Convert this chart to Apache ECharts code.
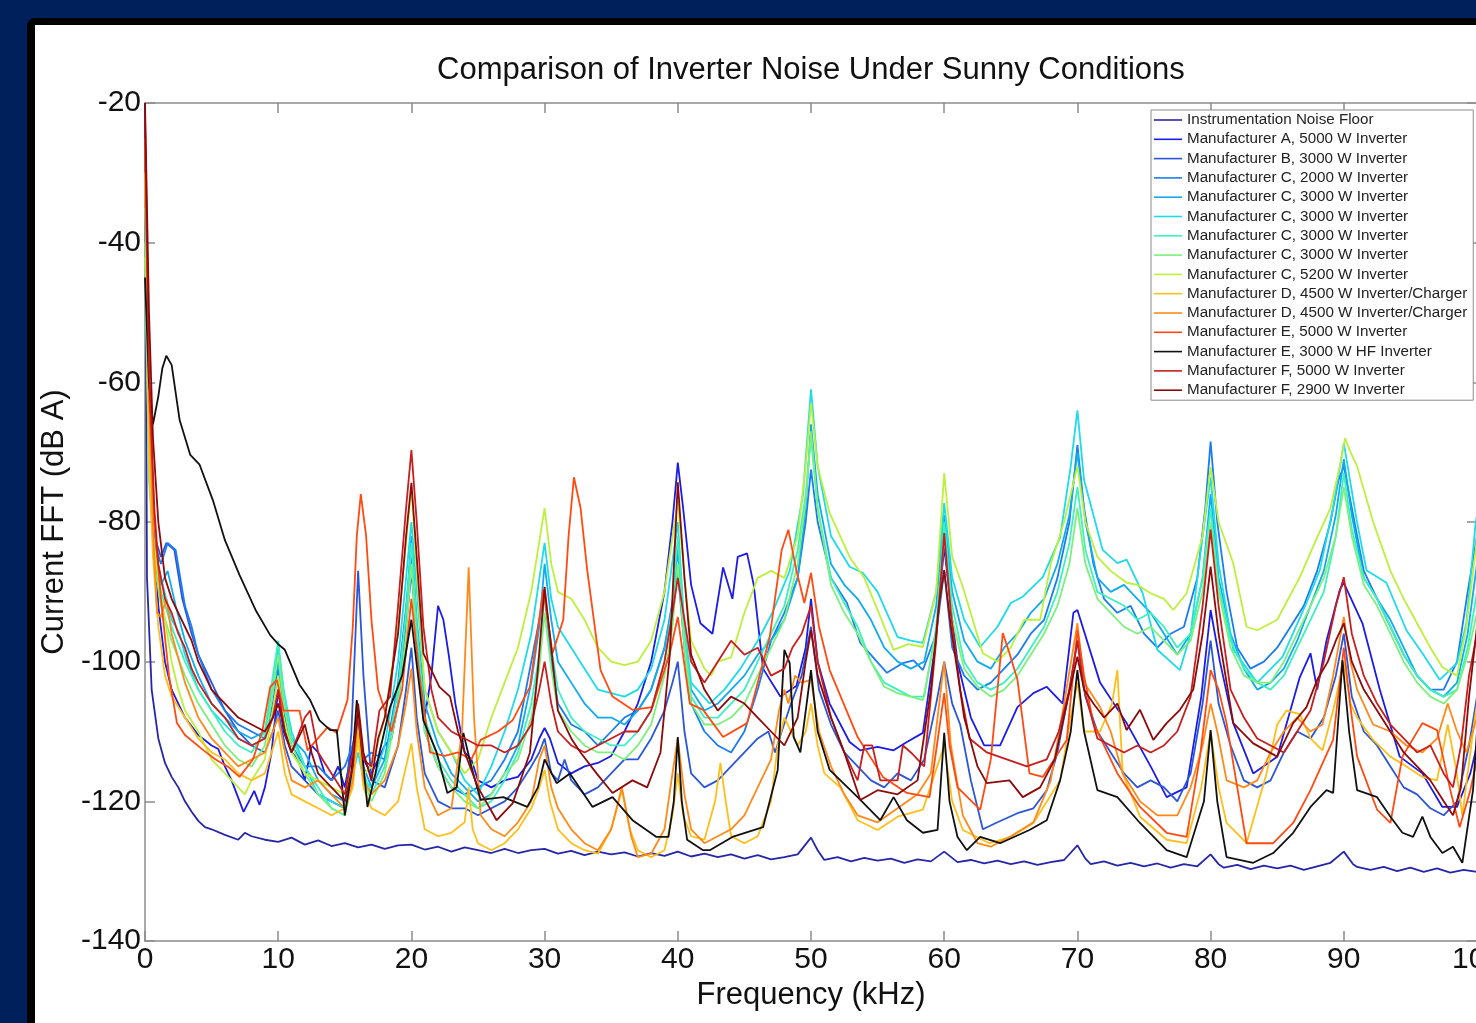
<!DOCTYPE html>
<html>
<head>
<meta charset="utf-8">
<script src="https://cdn.jsdelivr.net/npm/echarts@6/dist/echarts.min.js"></script>
<style>
html,body{margin:0;padding:0;width:1476px;height:1023px;overflow:hidden;background:#00205c;}
#frame{position:absolute;left:27px;top:18px;width:1500px;height:1100px;background:#000;border-radius:8px;}
#chart{position:absolute;left:35px;top:25px;width:1450px;height:1000px;background:#fff;}
</style>
</head>
<body>
<div id="frame"></div>
<div id="chart"></div>
<script>
// ---- axis ticks ----
const xTicks = [0,10,20,30,40,50,60,70,80,90,100];
const yTicks = [-140,-120,-100,-80,-60,-40,-20];

// ---- legend names ----
const names = [
 'Instrumentation Noise Floor',
 'Manufacturer A, 5000 W Inverter',
 'Manufacturer B, 3000 W Inverter',
 'Manufacturer C, 2000 W Inverter',
 'Manufacturer C, 3000 W Inverter',
 'Manufacturer C, 3000 W Inverter ',
 'Manufacturer C, 3000 W Inverter  ',
 'Manufacturer C, 3000 W Inverter   ',
 'Manufacturer C, 5200 W Inverter',
 'Manufacturer D, 4500 W Inverter/Charger',
 'Manufacturer D, 4500 W Inverter/Charger ',
 'Manufacturer E, 5000 W Inverter',
 'Manufacturer E, 3000 W HF Inverter',
 'Manufacturer F, 5000 W Inverter',
 'Manufacturer F, 2900 W Inverter'
];
const colors = ['#2626a8','#1c1ce8','#2c56d8','#1a7cf0','#10aaf0','#1ddbe8','#3cf0c0','#7cf07c','#bcf03c','#ffbf1a','#ff8a1a','#ff4a12','#111111','#c81e1e','#8c0a0a'];

// ---- series values: [frequency kHz, current FFT dB A] ----
const noiseFloor = [[0,-20],[0.15,-88],[0.5,-104],[1,-111],[1.5,-114.5],[2,-116.5],[2.5,-118],[3,-120],[3.5,-121.5],[4,-122.8],[4.5,-123.7],[5,-124],[6,-124.8],[7,-125.5],[7.5,-124.5],[8,-125],[9,-125.5],[10,-125.8],[11,-125.2],[12,-126.2],[13,-125.6],[14,-126.4],[15,-126],[16,-126.6],[17,-126.2],[18,-126.8],[19,-126.3],[20,-126.2],[21,-126.9],[22,-126.5],[23,-127.2],[24,-126.6],[25,-127],[26,-127.4],[27,-126.8],[28,-127.4],[29,-127],[30,-126.8],[31,-127.5],[32,-127.1],[33,-127.7],[34,-127.2],[35,-127.6],[36,-127.3],[37,-127.9],[38,-127.4],[39,-127.8],[40,-127.2],[41,-127.9],[42,-127.5],[43,-128],[44,-127.6],[45,-128.2],[46,-127.7],[47,-128.3],[48,-128],[49,-127.6],[50,-125.2],[50.5,-127],[51,-128.4],[52,-128],[53,-128.6],[54,-128.1],[55,-128.5],[56,-128.2],[57,-128.8],[58,-128.3],[59,-128.6],[60,-127.2],[61,-128.7],[62,-128.4],[63,-128.9],[64,-128.5],[65,-129],[66,-128.6],[67,-129.1],[68,-128.7],[69,-128.4],[70,-126.3],[70.6,-128.2],[71,-129],[72,-128.6],[73,-129.2],[74,-128.8],[75,-129.3],[76,-128.9],[77,-129.5],[78,-129],[79,-129.3],[80,-127.6],[80.6,-129],[81,-129.5],[82,-129.1],[83,-129.7],[84,-129.2],[85,-129.6],[86,-129.2],[87,-129.8],[88,-129.3],[89,-128.8],[90,-127.2],[90.7,-129],[91,-129.4],[92,-129.8],[93,-129.4],[94,-130],[95,-129.5],[96,-130.1],[97,-129.6],[98,-130.2],[99,-129.8],[100,-130.1]];

const mfrA5000 = [[0,-30],[0.3,-62],[0.6,-80],[1,-92],[1.5,-100],[2,-104],[3,-108],[4,-110.5],[5,-112],[5.5,-112.5],[6,-115],[6.5,-117],[7,-119.5],[7.4,-121.5],[7.8,-120],[8.2,-118.5],[8.6,-120.5],[9,-118],[9.5,-113],[10,-104],[10.4,-110],[11,-113],[11.5,-114],[12,-117],[12.5,-112],[13,-113],[13.5,-116],[14,-117],[14.5,-115],[15,-118],[15.5,-113],[16,-108],[16.4,-114],[17,-116],[17.5,-114],[18,-112],[18.5,-111],[19,-106],[19.5,-97],[20,-87],[20.5,-98],[21,-108],[21.5,-102],[22,-92],[22.4,-94],[22.8,-99],[23.3,-106],[24,-113],[24.5,-114],[25,-117],[26,-118],[27,-117],[28,-116.5],[29,-114],[29.6,-111],[30,-109.5],[30.4,-111],[31,-114.5],[32,-116],[33,-115],[34,-114.5],[35,-113.5],[36,-110],[37,-106],[38,-100],[39,-90],[39.6,-80],[40,-71.5],[40.4,-78],[41,-89],[41.7,-94.5],[42.6,-96],[43.4,-86.5],[44.1,-91],[44.5,-85],[45.2,-84.5],[45.7,-89],[46.4,-101],[47.7,-105],[48.9,-103.5],[49.6,-98],[50,-91],[50.5,-100],[51.4,-106],[52.9,-111.5],[53.7,-112.7],[55,-112.2],[56.2,-112.7],[57.2,-111.5],[58.4,-110.2],[59.3,-98],[60,-83.5],[60.6,-94],[61,-100],[62,-108],[63,-112],[64.2,-112],[65.5,-106.5],[66.7,-104.5],[67.7,-103.6],[68.9,-106],[69.7,-93],[70,-92.6],[71.7,-103],[73.7,-108.8],[75.5,-115],[76.7,-119.4],[78.2,-118],[79.3,-105],[80,-92.6],[80.7,-100],[81.7,-108.8],[83.2,-116],[85,-113.6],[86.7,-102.2],[87.5,-98.8],[88,-104],[88.7,-97],[89.7,-89.7],[90,-88.7],[91.4,-94.5],[92.7,-104],[94.2,-113.6],[95.9,-116],[97.4,-120.8],[98.5,-120.8],[99.5,-116],[100,-112]];

const mfrB3000 = [[0,-35],[0.3,-68],[0.7,-82],[1.2,-85],[1.6,-83],[2.2,-84],[2.8,-91],[3.5,-96],[4,-99],[5,-103],[6,-107],[7,-110],[8,-112],[9,-113],[9.6,-110],[10,-107],[10.5,-112],[11,-115],[12,-117],[13,-119],[14,-120],[15,-121],[15.5,-110],[16,-87],[16.4,-102],[17,-117],[18,-118],[19,-112],[19.6,-104],[20,-98],[20.4,-108],[21,-116],[22,-120],[23,-121],[24,-121],[25,-122],[26,-121],[27,-120],[28,-118],[29,-115],[29.6,-113],[30,-111],[30.5,-116],[31,-117],[31.5,-114],[32,-117],[33,-119],[34,-118],[35,-116],[36,-114],[37,-114],[38,-111],[39,-107],[39.6,-103],[40,-100],[40.5,-110],[41,-116],[42,-118],[43,-117],[44,-115],[45,-113],[46,-111],[46.8,-110],[47.3,-113],[47.8,-110],[48.5,-106],[49.3,-102],[50,-95],[50.6,-104],[51.5,-109],[52.5,-113],[53.5,-115],[54.5,-117],[55.5,-118],[56.5,-116],[57.5,-117],[58.5,-114],[59.4,-106],[60,-100],[60.6,-106],[61.2,-109],[62,-117],[62.9,-124],[64,-123],[65.5,-121.7],[66.7,-121],[67.7,-118.4],[68.5,-113],[69.4,-104],[70,-97],[70.6,-105],[71.5,-110],[72.5,-113],[73.5,-116],[74.5,-118],[75.5,-117],[76.5,-118],[77.5,-120],[78.5,-116],[79.4,-106],[80,-97],[80.6,-106],[81.5,-112],[82.5,-117],[83.5,-118],[84.5,-117],[85.5,-113],[86.5,-110],[87.5,-111],[88.5,-108],[89.4,-102],[90,-96],[90.6,-105],[91.5,-110],[92.5,-112],[93.5,-115],[94.5,-118],[95.5,-119],[96.5,-121],[97.5,-122],[98.5,-120],[99.4,-112],[100,-105]];

const mfrC2000 = [[0,-40],[0.3,-70],[0.7,-83],[1.2,-86],[1.7,-83],[2.3,-84],[3,-92],[3.5,-95],[4,-99],[5,-104],[6,-107],[7,-109],[8,-110],[9,-111],[9.6,-106],[10,-101],[10.4,-107],[11,-112],[12,-115],[13,-115],[14,-117],[15,-115],[16,-110],[16.4,-114],[17,-113],[18,-114],[19,-103],[20,-85],[20.5,-98],[21,-110],[22,-115],[23,-118],[24,-119],[25,-118],[26,-117],[27,-114],[28,-110],[29,-100],[30,-90],[30.5,-100],[31,-106],[32,-109],[33,-110],[34,-112],[35,-110],[36,-108],[37,-107],[38,-104],[39,-98],[40,-87],[40.5,-98],[41,-106],[42,-110],[43,-112],[44,-113],[45,-110],[46,-104],[47,-97],[48,-93],[49,-88],[49.6,-80],[50,-72.5],[50.5,-80],[51.5,-88],[52.7,-91.6],[53.7,-97.3],[55.7,-101.6],[56.9,-100.2],[57.7,-99.8],[58.4,-101.2],[59.4,-96],[60,-87],[60.6,-98],[61.5,-102],[62.5,-104],[63.5,-103],[64.5,-101],[65.5,-99],[66.5,-96],[67.5,-94],[68.5,-88],[69.4,-80],[70,-69],[70.5,-78],[71.2,-86],[72,-91],[73,-93],[74,-92],[75,-96],[76,-98],[77,-96],[78,-95],[79,-88],[79.6,-78],[80,-68.5],[80.5,-80],[81.2,-90],[82,-98],[83,-101],[84,-100],[85,-98],[86,-95],[87,-92],[88,-87],[89,-80],[89.6,-74],[90,-72],[90.6,-78],[91.5,-87],[92.5,-91],[93.5,-95],[94.5,-99],[95.5,-102],[96.5,-104],[97.5,-104],[98.5,-100],[99.3,-90],[100,-82]];

const mfrC3000a = [[0,-38],[0.3,-70],[0.7,-85],[1.2,-89],[1.7,-87],[2.3,-92],[3,-97],[4,-102],[5,-106],[6,-108],[7,-110],[8,-111],[9,-110],[9.6,-104],[10,-100],[10.4,-106],[11,-111],[12,-113],[13,-117],[14,-119],[15,-120],[15.6,-115],[16,-108],[16.4,-115],[17,-118],[18,-114],[19,-104],[19.6,-93],[20,-82],[20.4,-94],[21,-106],[22,-112],[23,-116],[24,-118],[25,-120],[26,-119],[27,-116],[28,-112],[29,-103],[29.6,-95],[30,-86],[30.5,-94],[31,-100],[32,-103],[33,-106],[34,-108],[35,-108],[36,-109],[37,-107],[38,-104],[39,-98],[39.6,-92],[40,-84],[40.5,-96],[41,-104],[42,-107],[43,-106],[44,-104],[45,-102],[46,-99],[47,-97],[48,-94],[49,-88],[49.6,-78],[50,-66],[50.5,-76],[51.5,-86],[52.5,-89],[53.5,-91],[54.5,-94],[55.5,-98],[56.5,-100],[57.5,-101],[58.5,-100],[59.4,-92],[60,-79],[60.6,-90],[61.5,-97],[62.5,-100],[63.5,-101],[64.5,-98],[65.5,-96],[66.5,-93],[67.5,-91],[68.5,-86],[69.4,-79],[70,-70],[70.6,-80],[71.5,-88],[72.5,-90],[73.5,-89],[74.5,-91],[75.5,-93],[76.5,-96],[77.5,-99],[78.5,-96],[79.4,-88],[80,-76],[80.6,-88],[81.5,-96],[82.5,-101],[83.5,-104],[84.5,-103],[85.5,-101],[86.5,-97],[87.5,-92],[88.5,-87],[89.4,-79],[90,-71],[90.6,-79],[91.5,-88],[92.5,-91],[93.5,-94],[94.5,-98],[95.5,-102],[96.5,-104],[97.5,-105],[98.5,-103],[99.3,-96],[100,-86]];

const mfrC3000b = [[0,-35],[0.3,-70],[0.7,-84],[1.2,-88],[2,-94],[2.6,-96],[3,-99],[4,-104],[5,-107],[6,-109],[7,-111],[8,-112],[9,-111],[9.6,-104],[10,-98],[10.4,-104],[11,-110],[12,-115],[13,-119],[14,-120],[15,-121],[16,-113],[16.4,-117],[17,-118],[18,-112],[19,-100],[20,-80],[20.5,-92],[21,-104],[22,-110],[23,-113],[24,-117],[25,-119],[26,-115],[27,-110],[28,-104],[29,-96],[30,-83],[30.5,-91],[31,-95],[32,-98],[33,-101],[34,-104],[35,-104.5],[36,-105],[37,-104],[38,-101],[39,-94],[40,-80],[40.5,-95],[41,-103],[42.4,-106],[43.5,-104],[44.7,-101],[46,-97],[47.1,-93],[48.4,-87],[49.4,-76],[50,-61],[50.5,-72],[51.5,-82],[52.9,-86.4],[53.9,-87.3],[55,-90],[56.5,-96.5],[57.5,-97],[58.4,-97.3],[59.4,-90],[60,-77.3],[60.6,-88],[61.5,-94],[62.7,-97.9],[64,-95],[65,-91.6],[65.9,-90.7],[67.4,-87.9],[68.7,-82.2],[69.5,-72],[70,-64],[70.5,-74],[71.9,-84],[73,-85.9],[73.7,-85.4],[74.9,-90.2],[76,-98.3],[77.7,-101.2],[78.5,-96],[79.2,-85],[80,-73.6],[80.6,-86],[81.7,-98.3],[83.5,-103],[85.4,-99.3],[87.2,-91.6],[88.2,-86.9],[89.2,-77.9],[90,-68.7],[91,-80.1],[91.7,-86.9],[93.2,-88.7],[94.7,-95.5],[95.9,-98.8],[97.2,-102.6],[98.5,-100.2],[99.2,-94.5],[99.9,-80.1],[100,-79]];

const mfrC3000c = [[0,-40],[0.3,-72],[0.7,-85],[1.2,-90],[2,-95],[3,-100],[4,-104],[5,-107],[6,-110],[7,-112],[8,-113],[9,-110],[9.6,-102],[10,-97],[10.4,-104],[11,-111],[12,-115],[13,-118],[14,-121],[15,-122],[15.6,-116],[16,-109],[16.4,-116],[17,-119],[18,-115],[19,-104],[19.6,-93],[20,-83],[20.4,-95],[21,-108],[22,-114],[23,-117],[24,-119],[25,-121],[26,-120],[27,-117],[28,-113],[29,-106],[29.6,-99],[30,-90],[30.5,-98],[31,-104],[32,-108],[33,-110],[34,-111],[35,-112],[36,-112],[37,-110],[38,-107],[39,-100],[39.6,-92],[40,-82],[40.5,-96],[41,-105],[42,-108],[43,-108],[44,-106],[45,-104],[46,-100],[47,-96],[48,-92],[49,-84],[49.6,-76],[50,-68],[50.5,-78],[51.5,-88],[52.5,-91.6],[53.5,-95],[54.5,-100],[55.5,-103],[56.5,-104],[57.5,-105],[58.5,-105],[59.4,-95],[60,-80],[60.6,-92],[61.5,-100],[62.5,-103],[63.5,-104],[64.5,-103],[65.5,-101],[66.5,-98],[67.5,-95],[68.5,-90],[69.4,-83],[70,-75],[70.6,-84],[71.5,-90],[72.5,-91],[73.5,-92],[74.5,-94],[75.5,-93],[76.5,-95],[77.5,-98],[78.5,-96],[79.4,-88],[80,-78],[80.6,-89],[81.5,-97],[82.5,-101],[83.5,-103],[84.5,-104],[85.5,-102],[86.5,-98],[87.5,-94],[88.5,-90],[89.4,-82],[90,-73],[90.6,-81],[91.5,-88],[92.5,-91],[93.5,-95],[94.5,-99],[95.5,-102],[96.5,-104],[97.5,-105],[98.5,-104],[99.3,-98],[100,-90]];

const mfrC3000d = [[0,-42],[0.3,-74],[0.7,-86],[1.2,-92],[2,-97],[3,-102],[4,-106],[5,-109],[6,-112],[7,-114],[8,-115],[9,-112],[9.6,-104],[10,-99],[10.4,-106],[11,-112],[12,-116],[13,-119],[14,-121],[15,-122],[15.6,-117],[16,-110],[16.4,-117],[17,-120],[18,-116],[19,-106],[19.6,-96],[20,-86],[20.4,-98],[21,-110],[22,-115],[23,-118],[24,-120],[25,-121],[26,-119],[27,-116],[28,-114],[29,-108],[29.6,-101],[30,-93],[30.5,-101],[31,-107],[32,-110],[33,-112],[34,-113],[35,-113],[36,-114],[37,-112],[38,-109],[39,-102],[39.6,-95],[40,-86],[40.5,-98],[41,-106],[42,-109],[43,-109],[44,-108],[45,-106],[46,-102],[47,-98],[48,-94],[49,-86],[49.6,-77],[50,-67],[50.5,-78],[51.5,-89],[52.5,-93],[53.5,-96],[54.5,-100],[55.5,-103.6],[56.5,-104.5],[57.5,-105],[58.4,-105.5],[59.4,-96],[60,-82],[60.6,-94],[61.5,-101],[62.5,-103.6],[63.5,-105],[64.5,-104],[65.5,-102],[66.5,-99],[67.5,-96],[68.5,-92],[69.4,-86],[70,-78],[70.6,-86],[71.5,-91],[72.5,-93],[73.5,-95],[74.5,-96],[75.5,-95],[76.5,-97],[77.5,-99],[78.5,-97],[79.4,-90],[80,-80],[80.6,-90],[81.5,-98],[82.5,-102],[83.5,-103],[84.5,-103],[85.5,-100],[86.5,-96],[87.5,-92],[88.5,-88],[89.4,-82],[90,-75],[90.6,-82],[91.5,-89],[92.5,-92],[93.5,-96],[94.5,-100],[95.5,-103],[96.5,-105],[97.5,-106],[98.5,-104],[99.3,-99],[100,-93]];

const mfrC5200 = [[0,-30],[0.3,-65],[0.6,-82],[1,-88],[1.5,-94],[2,-100],[2.5,-104],[3,-107],[4,-110],[5,-114],[6,-116],[7,-118],[7.5,-119],[8,-117],[9,-114],[10,-102],[10.4,-108],[11,-113],[12,-116],[13,-117],[14,-118],[15,-119],[16,-112],[16.5,-116],[17,-115],[18,-108],[19,-95],[20,-75],[20.5,-90],[21,-104],[22,-110],[23,-113],[24,-116],[25,-114],[26,-108],[27,-103],[28,-98],[29,-90],[30,-78],[30.5,-86],[31,-90],[32,-91],[33,-94],[34,-98],[35,-100],[36,-100.5],[37,-100],[38,-97],[39,-90],[40,-77],[40.5,-88],[41,-97],[42,-101],[42.5,-102],[43,-100],[44,-99.4],[45,-93],[46,-88],[47,-87],[48,-88],[49,-82],[49.6,-72],[50,-63],[50.5,-72],[51.4,-78.7],[52.9,-85],[54,-88],[55,-92.6],[56.2,-98.3],[57.3,-97.5],[58.4,-97.9],[59.4,-90],[60,-73],[60.6,-85],[61.4,-89.3],[62.9,-98.8],[64,-100],[65,-98],[66,-94],[67.2,-94],[68,-86],[69,-80],[70,-72],[70.6,-80],[71.5,-85],[72.5,-87],[73.7,-88.7],[74.5,-89],[75.5,-90.2],[76.5,-91],[77.2,-92.6],[78.2,-90.2],[79.4,-82],[80,-72.1],[80.6,-80],[81.7,-85.9],[82.7,-95],[83.5,-95.5],[85,-94],[86.7,-87.9],[88,-82.2],[89,-78],[89.7,-72],[90.1,-68],[90.5,-70],[91,-72],[92.2,-80],[93.5,-87],[94.5,-91],[95.5,-94.5],[96.5,-98],[97.4,-100.8],[98.5,-102],[99.2,-95],[99.9,-84],[100,-82]];

const mfrD4500a = [[0,-30],[0.3,-70],[0.6,-85],[1,-95],[1.5,-102],[2,-105],[3,-108],[4,-111],[5,-113],[6,-114],[7,-116],[8,-117],[9,-116],[10,-110],[10.5,-116],[11,-119],[12,-120],[13,-121],[14,-122],[15,-121],[15.6,-118],[16,-110],[16.4,-118],[17,-121],[18,-122],[19,-120],[19.6,-115],[20,-111.7],[20.4,-118],[21,-124],[22,-125],[23,-124.5],[24,-123],[24.3,-118],[24.6,-124],[25,-126],[26,-127],[27,-126],[28,-124],[29,-121],[29.6,-118],[30,-115.5],[30.4,-120],[31,-124],[32,-126],[33,-127],[34,-127.5],[35,-124],[35.8,-118.4],[36.4,-124],[37,-127],[38,-128],[39,-127],[39.6,-122],[40,-116],[40.4,-122],[41,-125],[42,-125.5],[42.8,-120],[43.2,-114.5],[43.6,-120],[44,-125],[45,-126],[46,-125],[47,-120],[47.5,-112],[48,-108],[48.5,-110],[49,-112],[49.6,-110],[50,-106],[50.5,-112],[51,-116],[52.2,-118],[53.5,-122.7],[55,-124.1],[56.5,-122.2],[58.4,-121.2],[59.3,-116],[60,-112],[60.6,-120],[61.4,-124.1],[63.4,-126],[65,-125.1],[66.7,-123.1],[68.7,-117],[69.5,-108],[70,-103],[70.5,-110],[71.7,-110],[72.6,-106],[73,-101.2],[73.4,-116],[74.7,-122.2],[76.7,-125.5],[78.2,-126],[79.3,-118],[80,-110],[80.6,-118],[81.2,-123.1],[82.7,-126],[84.2,-116],[85,-109],[85.7,-107],[86.7,-107.5],[87.5,-111],[88.4,-112.7],[89.2,-107],[90,-100],[90.5,-106],[91,-108],[92.2,-111.2],[93.5,-113.6],[94.7,-115],[95.9,-116.5],[97,-117],[97.8,-109],[98.4,-115],[98.9,-122],[99.7,-110],[100,-106]];

const mfrD4500b = [[0,-25],[0.3,-62],[0.6,-81],[0.9,-93],[1.2,-93.6],[1.6,-91],[2,-96],[3,-103],[4,-108],[5,-111],[6,-113],[7,-115],[8,-114],[9,-113],[9.6,-110],[10,-108],[10.5,-113],[11,-117],[12,-118],[13,-117],[14,-119],[15,-121],[15.6,-117],[16,-107],[16.4,-117],[17,-119],[18,-117],[19,-112],[19.6,-106],[20,-101],[20.4,-110],[21,-118],[22,-122],[23,-121],[23.8,-110],[24.3,-86.5],[24.7,-108],[25.2,-122],[26,-124],[27,-125],[28,-123],[29,-120],[29.6,-114],[30,-112],[30.5,-118],[31,-121],[32,-124],[33,-126],[34,-127],[35,-124],[35.8,-118],[36.5,-125],[37,-128],[38,-127.5],[39,-124],[39.6,-116],[40,-111],[40.5,-119],[41,-124],[42,-126],[43,-125],[44,-124],[45,-122],[46,-118],[47,-114],[47.6,-107],[48,-104],[48.3,-106],[48.8,-102],[49.3,-103],[50,-102.6],[50.6,-110],[51.5,-115],[52.5,-119],[53.5,-122],[55,-123],[56.5,-121],[58,-119],[59,-116],[60,-100],[60.5,-112],[61.4,-122],[62.5,-126],[63.5,-126.5],[65,-125],[66.7,-123],[68,-117],[69,-106],[70,-94.5],[70.5,-103],[71.7,-106.5],[72.5,-110],[73.4,-116],[74.7,-120],[76,-122],[77.5,-122],[78.5,-118],[79.4,-112],[80,-106],[80.5,-110],[81.2,-117],[82.5,-118],[83.5,-117],[84.5,-113],[85.5,-110],[86.5,-108],[87.5,-110],[88.4,-109],[89.2,-102],[90,-93.6],[90.5,-100],[91,-104],[92.2,-109],[93.5,-110],[94.7,-112],[95.9,-113],[97,-111],[97.8,-106],[98.5,-110],[99.2,-113],[100,-108]];

const mfrE5000 = [[0,-25],[0.3,-60],[0.7,-80],[1.2,-91],[1.8,-102],[2.4,-108.8],[3,-110.5],[4.4,-112.7],[5.3,-114],[6.2,-115],[7.1,-116.5],[8.1,-114],[8.8,-110],[9.4,-103.6],[9.9,-102.6],[10.4,-107],[11.6,-107],[12.2,-112.7],[13.7,-109.4],[14.4,-110.2],[15.2,-105.5],[15.6,-95],[15.9,-82],[16.2,-76],[16.6,-82],[17,-94],[17.5,-104],[18.5,-110],[19.3,-104],[20,-91],[20.6,-102],[21.4,-113],[22.5,-113.5],[23.5,-113],[24.5,-114],[25.2,-111.2],[26.5,-110],[27.6,-108.4],[28.9,-103.6],[29.9,-89.7],[30.6,-98.8],[31.4,-94],[31.8,-82],[32.2,-73.6],[32.7,-78],[33.2,-86.9],[34.2,-101.2],[35.1,-105],[36.6,-106.9],[38.1,-106.5],[39.4,-98.8],[40,-93.6],[40.9,-106],[41.9,-106.9],[43.4,-110.8],[45.2,-108.8],[46.9,-96.5],[47.8,-84],[48.3,-81.1],[48.9,-86.9],[49.5,-91.6],[50,-87.3],[50.6,-95],[51.4,-101.2],[53.5,-110.8],[55.4,-116.5],[57.2,-118.8],[58.9,-119.4],[59.6,-110],[60,-104.5],[60.4,-112],[61,-118],[62.7,-121.2],[63.5,-114],[64,-104],[64.4,-95.9],[64.9,-98.8],[65.5,-102.6],[66.4,-116],[67.4,-116.5],[69.2,-111.2],[70,-95.5],[70.5,-102],[71.2,-108.8],[73,-116],[74.7,-120.8],[76.7,-124.5],[78.2,-125.1],[79.2,-113.6],[80,-101.2],[80.6,-104],[81.2,-108.8],[82.7,-126],[84.7,-126],[86.2,-123.1],[87.5,-118.4],[88.3,-115],[89.2,-111.2],[90,-98],[90.5,-106.5],[91,-113.6],[92.5,-121.2],[93.5,-123.1],[94.4,-113.6],[95.9,-108.8],[97,-109.8],[98,-118.4],[98.7,-123.7],[99.5,-118.4],[100,-114]];

const mfrE3000HF = [[0,-45],[0.3,-60],[0.6,-66],[1,-62],[1.3,-58],[1.6,-56.2],[2,-57.5],[2.6,-65.4],[3.4,-70.4],[4.1,-71.8],[5.1,-76.9],[6,-82.6],[7.1,-87.6],[8.3,-92.6],[9.4,-96.2],[10,-97.5],[10.5,-98.3],[11.6,-103.3],[12.4,-105.5],[13.1,-108.4],[13.9,-109.8],[14.4,-109.8],[15,-122],[15.5,-116],[15.9,-105.5],[16.3,-113],[16.7,-120.8],[17.3,-116],[17.6,-113],[18.4,-106.5],[19.3,-102],[20,-94],[20.9,-108.4],[21.9,-113],[22.7,-118.8],[23.4,-118],[23.9,-110.2],[24.5,-115],[25.2,-119.8],[26.9,-119.4],[28.7,-120.8],[29.5,-118],[30,-114],[30.9,-117.4],[31.9,-116],[33.6,-120.8],[35.1,-119.4],[36.6,-122.7],[38.4,-125.1],[39.3,-125.1],[39.7,-120],[40,-110.8],[40.3,-120],[40.7,-125.5],[41.9,-127],[42.4,-127],[44.1,-125.1],[46.4,-123.7],[47.5,-115.5],[48,-98.3],[48.4,-100.2],[48.7,-110.8],[49.2,-113],[50,-101.2],[50.5,-110],[51.4,-115.5],[53.5,-119.4],[55.2,-122.7],[56.2,-119.4],[57.2,-122.7],[58.4,-124.5],[59.5,-124.1],[60,-110.2],[60.4,-120],[61,-125.1],[61.7,-127],[62.7,-125.1],[64.2,-126],[66.4,-124.1],[67.7,-122.7],[68.7,-117],[69.5,-110],[70,-101.2],[70.5,-110],[71.5,-118.4],[73,-119.4],[74.7,-123.1],[76.7,-127],[78.2,-128],[79.5,-120],[80,-109.8],[80.5,-120],[81.2,-128],[83.2,-128.8],[84.7,-127.4],[86.2,-124.5],[87.5,-120.8],[88.7,-118.4],[89.2,-118.8],[89.9,-99.8],[90.4,-110],[91,-118.4],[92.5,-119.4],[93.5,-122.2],[94.4,-124.5],[95.2,-125.1],[95.9,-122.2],[96.5,-125.1],[97.4,-127.4],[98.2,-126.5],[98.9,-128.8],[99.7,-118.4],[100,-110]];

const mfrF5000 = [[0,-22],[0.3,-58],[0.7,-78],[1,-86],[1.5,-91],[2,-93],[2.5,-96],[3,-98],[3.5,-101],[4,-103],[5,-106],[6,-108],[7,-111],[8,-112],[9,-111],[9.6,-108],[10,-104],[10.5,-110],[11,-113],[12,-108],[12.4,-107],[13,-113],[14,-116],[15,-119],[15.6,-113],[16,-108],[16.4,-114],[17,-115],[17.6,-107],[18.4,-105],[19,-92],[19.6,-78],[20,-69.7],[20.4,-80],[20.9,-95],[21.5,-104],[22,-108],[23,-110],[24,-111],[25,-112],[26,-112],[27,-113],[28,-112],[29,-109],[29.6,-104],[30,-100],[30.5,-106],[31,-110],[32,-112],[33,-113],[34,-112],[35,-111],[36,-110],[37,-110],[38,-107],[39,-100],[39.6,-93],[40,-88],[40.5,-94],[41,-100],[42,-103],[43,-100],[44,-97],[45,-99],[46,-98],[47,-102],[48,-101],[48.6,-98],[49.3,-96],[50,-92],[50.5,-100],[51.5,-108],[52.5,-113],[53.5,-117],[54,-112],[54.6,-112],[55.2,-117],[56.5,-117],[56.9,-112],[57.5,-113],[58.5,-115],[59.4,-97],[60,-81.6],[60.5,-93],[61.2,-104],[61.9,-111],[63.2,-113],[64.7,-114],[66.2,-115],[67.7,-114],[68.6,-110],[69.4,-104],[70,-97],[70.5,-104],[71.5,-111],[72.5,-112],[73.5,-113],[74.5,-112],[75.5,-113],[76.5,-112],[77.5,-110],[78.5,-105],[79.4,-92],[80,-81.1],[80.6,-92],[81.5,-104],[82.5,-108],[83.5,-111],[84.5,-112],[85.5,-113],[86.5,-110],[87.5,-107],[88.5,-100],[89.4,-92],[90,-87.9],[90.6,-96],[91.5,-102],[92.5,-106],[93.5,-109],[94.5,-111],[95.5,-113],[96.5,-112],[97.5,-116],[98.2,-118],[98.8,-112],[99.4,-102],[100,-96]];

const mfrF2900 = [[0,-20],[0.3,-50],[0.6,-68],[1,-80],[1.5,-88],[2,-91],[2.5,-93],[3,-95],[3.5,-97],[4,-100],[5,-104],[6,-106],[7,-108],[8,-109],[9,-110],[9.6,-108],[10,-106],[10.5,-110],[11,-113],[11.5,-111],[12,-109],[12.5,-113],[13,-116],[14,-118],[15,-120],[15.6,-115],[16,-106],[16.4,-113],[17,-117],[17.5,-111],[18,-108],[19,-96],[19.6,-82],[20,-74.4],[20.4,-85],[20.9,-98.8],[22.1,-103.6],[22.9,-105],[23.5,-110],[24,-113],[25,-118],[26.4,-122.7],[27.6,-120.3],[28.9,-113],[29.5,-101],[30,-89.3],[30.5,-98],[31,-107],[32,-111],[32.7,-113],[33.9,-116],[35.1,-118.8],[36.6,-117],[37.7,-118],[38.7,-113],[39.4,-99],[40,-74.3],[40.5,-88],[41,-99],[42,-104],[43,-107],[44,-105],[45,-106],[46,-108],[47,-110],[48,-112],[49,-108],[49.6,-100],[50,-95.5],[50.5,-102],[51.5,-108],[52.5,-113],[53.7,-119.8],[55,-118.4],[56.5,-119],[58,-117],[59,-104],[59.6,-92],[60,-86.9],[60.5,-95],[61.5,-108],[62.5,-115],[63.2,-117.4],[64.9,-117],[65.9,-119.4],[67.2,-118],[68.3,-114],[69.2,-106],[70,-99.3],[70.5,-104],[71.2,-106],[72,-108],[73,-106],[73.7,-109.8],[74.7,-106.9],[75.7,-111.2],[76.7,-108.8],[77.7,-106.9],[78.7,-104],[79.4,-96],[80,-86.4],[80.6,-96],[81.7,-108.8],[83.2,-111.7],[85,-113.6],[86.2,-108.8],[87.2,-106.5],[88,-102.6],[88.8,-100],[89.4,-97],[90,-94.5],[90.6,-100],[91.5,-104],[92.5,-107],[93.5,-110],[94.5,-113],[95.5,-115],[96.5,-117],[97.5,-120],[98.2,-122],[98.8,-118],[99.4,-105],[100,-95]];

const allData = [noiseFloor,mfrA5000,mfrB3000,mfrC2000,mfrC3000a,mfrC3000b,mfrC3000c,mfrC3000d,mfrC5200,mfrD4500a,mfrD4500b,mfrE5000,mfrE3000HF,mfrF5000,mfrF2900];

const FONT = 'Liberation Sans, Arial, Helvetica, sans-serif';
const chart = echarts.init(document.getElementById('chart'), null, {renderer:'canvas'});

const series = allData.map((d,i)=>({
  name: names[i],
  type: 'line',
  data: d,
  symbol: 'none',
  showSymbol: false,
  smooth: false,
  animation: false,
  lineStyle: {color: colors[i], width: 1.8},
  itemStyle: {color: colors[i]},
  xAxisIndex: 0, yAxisIndex: 0,
  z: 2 + i
}));

const axisGray = '#8c8c8c';
chart.setOption({
  backgroundColor: '#ffffff',
  animation: false,
  title: {
    text: 'Comparison of Inverter Noise Under Sunny Conditions',
    left: 397, top: 25,
    textStyle: {fontFamily: FONT, fontSize: 31, fontWeight: 'normal', color: '#111'}
  },
  grid: {left: 110, top: 78, width: 1332, height: 838, containLabel: false, outerBoundsMode: 'none'},
  legend: {
    orient: 'vertical',
    left: 1116, top: 85,
    padding: [2, 6, 2, 3],
    itemGap: 3.3,
    itemWidth: 28,
    itemHeight: 1.6,
    icon: 'rect',
    backgroundColor: '#ffffff',
    borderColor: '#8c8c8c',
    borderWidth: 1,
    borderRadius: 0,
    selectedMode: false,
    textStyle: {fontFamily: FONT, fontSize: 15.2, color: '#222', lineHeight: 16},
    formatter: n => n.trim(),
    data: names.map((n,i)=>({name:n, itemStyle:{color: colors[i]}}))
  },
  xAxis: [{
    type: 'value', min: 0, max: 100, interval: 10,
    position: 'bottom',
    name: 'Frequency (kHz)', nameLocation: 'middle', nameGap: 34,
    nameTextStyle: {fontFamily: FONT, fontSize: 31, color: '#111'},
    axisLine: {show: true, onZero: false, lineStyle: {color: axisGray, width: 1.5}},
    axisTick: {show: true, inside: true, length: 10, lineStyle: {color: axisGray, width: 1.5}},
    axisLabel: {fontFamily: FONT, fontSize: 30, color: '#111', margin: 4,
      formatter: v => xTicks.includes(v) ? String(v) : ''},
    splitLine: {show: false}
  },{
    type: 'value', min: 0, max: 100, interval: 10, position: 'top',
    axisLine: {show: true, onZero: false, lineStyle: {color: axisGray, width: 1.5}},
    axisTick: {show: true, inside: true, length: 10, lineStyle: {color: axisGray, width: 1.5}},
    axisLabel: {show: false}, splitLine: {show: false}
  }],
  yAxis: [{
    type: 'value', min: -140, max: -20, interval: 20,
    position: 'left',
    name: 'Current FFT (dB A)', nameLocation: 'middle', nameGap: 72, nameRotate: 90,
    nameTextStyle: {fontFamily: FONT, fontSize: 31, color: '#111'},
    axisLine: {show: true, onZero: false, lineStyle: {color: axisGray, width: 1.5}},
    axisTick: {show: true, inside: true, length: 10, lineStyle: {color: axisGray, width: 1.5}},
    axisLabel: {fontFamily: FONT, fontSize: 30, color: '#111', margin: 4,
      formatter: v => yTicks.includes(v) ? String(v) : ''},
    splitLine: {show: false}
  },{
    type: 'value', min: -140, max: -20, interval: 20, position: 'right',
    axisLine: {show: true, onZero: false, lineStyle: {color: axisGray, width: 1.5}},
    axisTick: {show: true, inside: true, length: 10, lineStyle: {color: axisGray, width: 1.5}},
    axisLabel: {show: false}, splitLine: {show: false}
  }],
  series: series
});
</script>
</body>
</html>
